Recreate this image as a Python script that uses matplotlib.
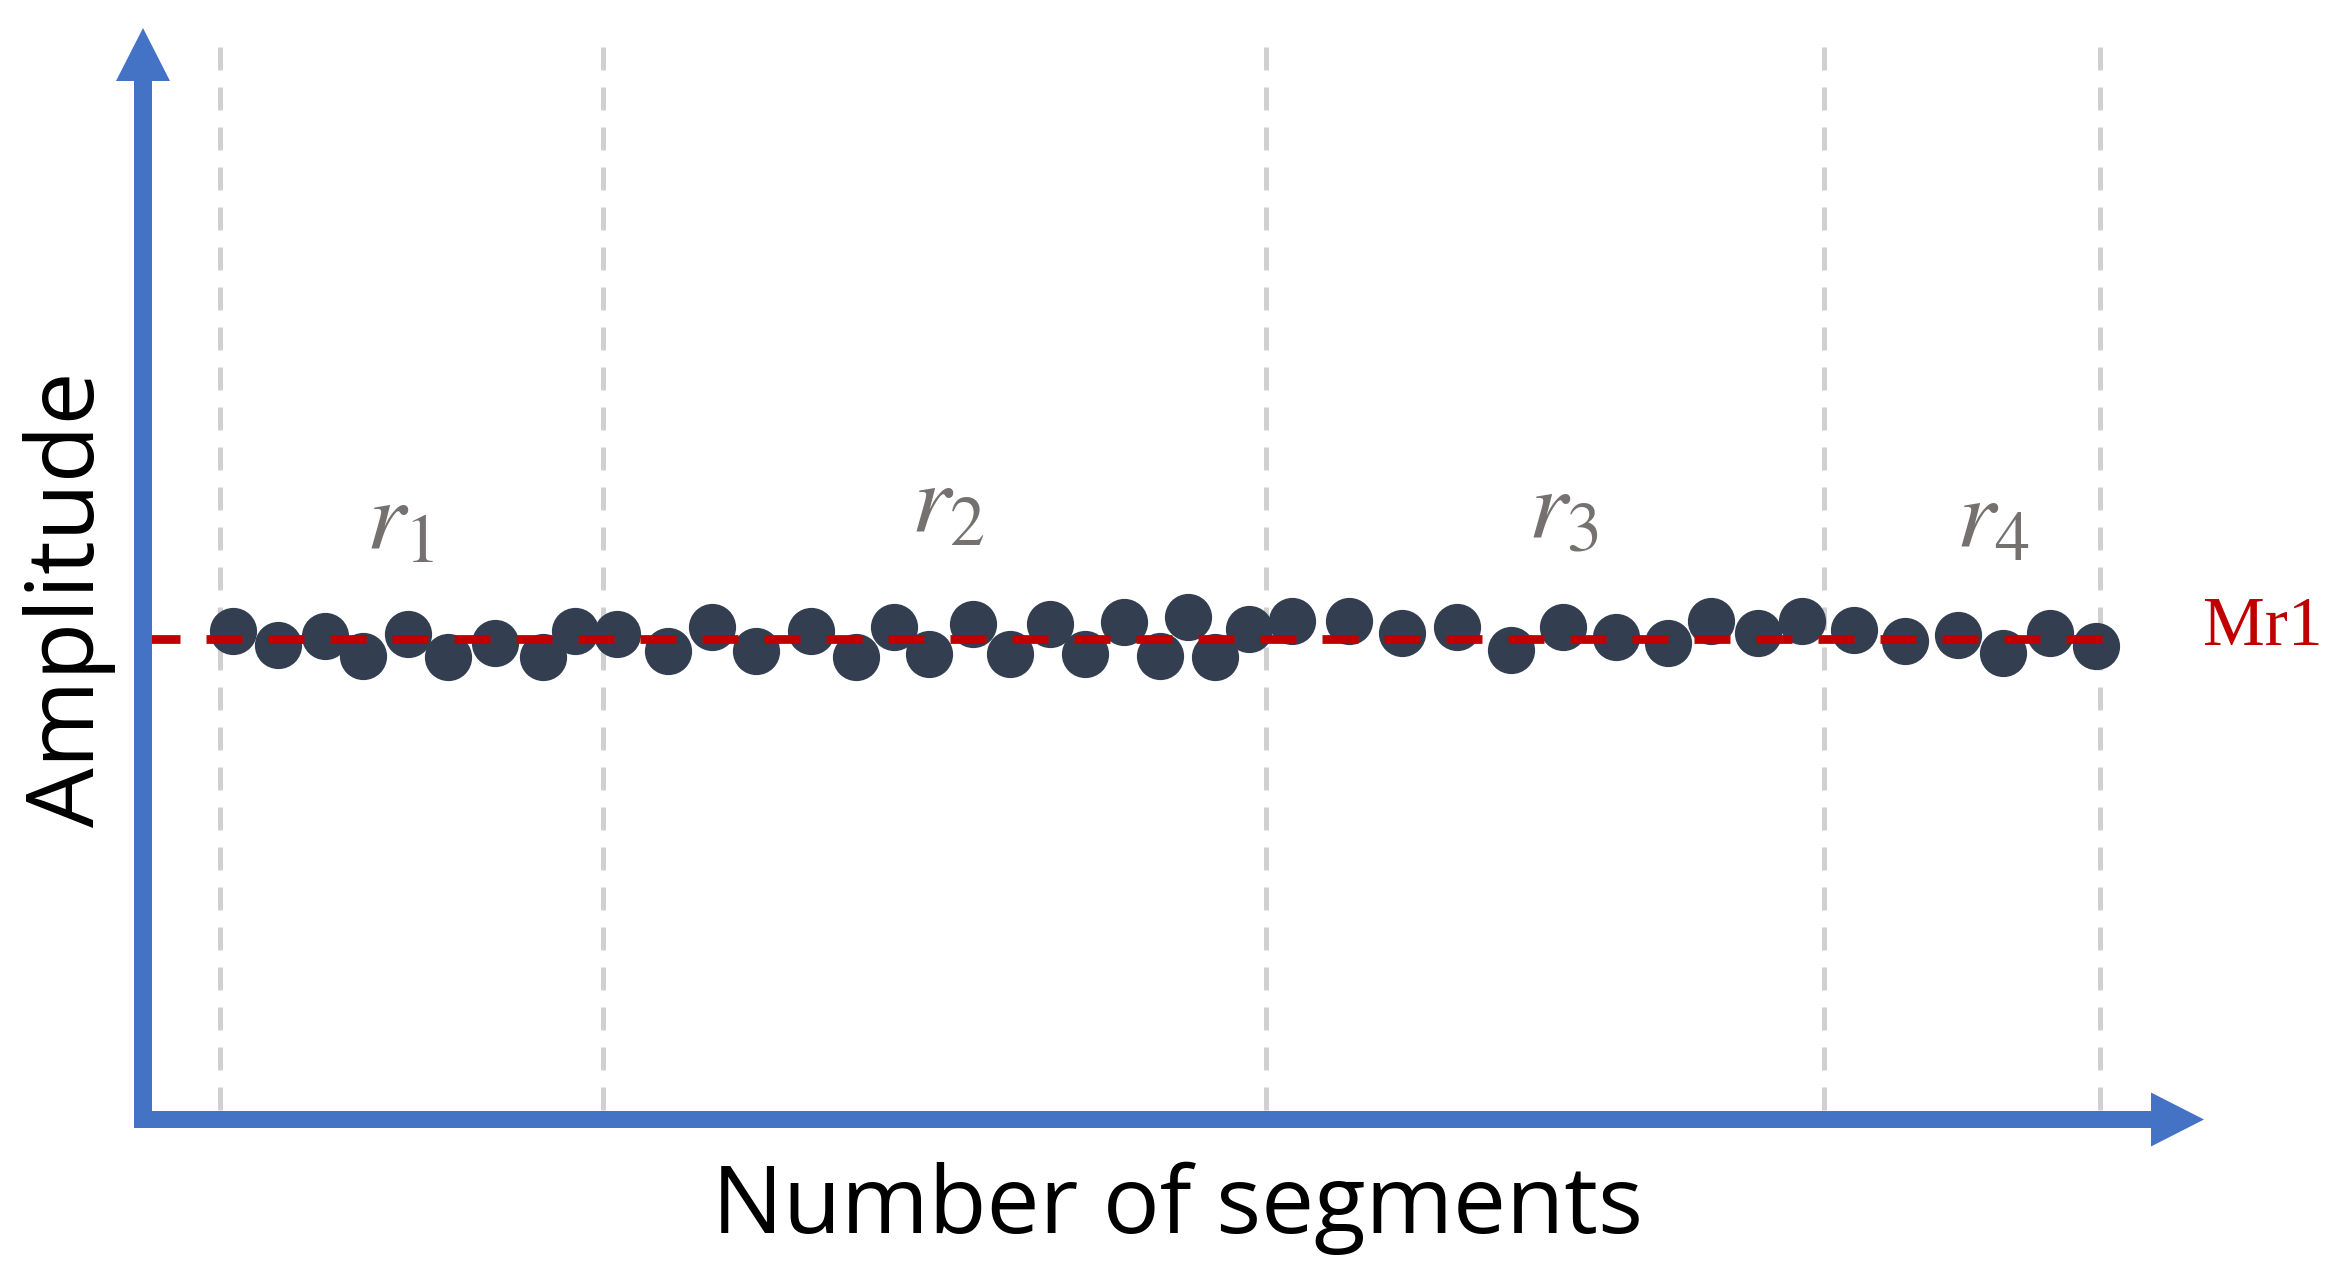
import matplotlib.pyplot as plt
from matplotlib.patches import FancyArrow
import numpy as np

# segment positions along the horizontal axis and their amplitudes
seg_x = [4.65, 6.9, 9.25, 11.15, 13.4, 15.4, 17.75, 20.15, 21.75, 23.85,
         26.4, 28.6, 30.8, 33.55, 35.8, 37.7, 39.45, 41.65, 43.5, 45.5,
         47.25, 49.2, 51.0, 52.4, 53.75, 55.45, 57.6, 60.45, 63.1, 65.85,
         68.55, 71.15, 73.8, 76.4, 78.55, 80.9, 83.1, 85.7, 88.25, 90.9,
         93.15, 95.5, 97.8]
amplitude = [44.75, 43.47, 44.30, 42.47, 44.48, 42.37, 43.65, 42.37, 44.75, 44.48,
             42.92, 45.12, 42.92, 44.75, 42.37, 45.12, 42.65, 45.40, 42.65, 45.40,
             42.65, 45.58, 42.47, 46.04, 42.37, 44.94, 45.67, 45.67, 44.57, 45.12,
             43.01, 45.12, 44.21, 43.65, 45.67, 44.57, 45.67, 44.85, 43.83, 44.39,
             42.74, 44.57, 43.38]
mean_r1 = 44.02
mean_span = [0.2, 98.75]

region_bounds = [4.0, 23.15, 56.3, 84.2, 98.0]
region_labels = [r'$r_1$', r'$r_2$', r'$r_3$', r'$r_4$']
label_x = [13.0, 40.4, 71.2, 92.65]
label_y = [54.7, 56.3, 55.8, 54.9]

W, H = 2335, 1273
fig = plt.figure(figsize=(W / 100, H / 100), dpi=100)
plt.rcParams['mathtext.fontset'] = 'stix'

# main axes: from the y-axis arrow (x=140px) to x arrow tip, y from x-axis to y arrow tip
ax = fig.add_axes([140 / W, (H - 1119.5) / H, (2204 - 140) / W, (1119.5 - 28) / H])
ax.set_xlim(0, 103.2)
ax.set_ylim(0, 100)
ax.axis('off')

for b in region_bounds:
    ax.plot([b, b], [0.87, 98.6], color='#d0d0d0', lw=3.6,
            dashes=(23 * 0.72 / 3.6, 17 * 0.72 / 3.6), zorder=1, clip_on=False)

ax.plot(seg_x, amplitude, 'o', color='#333f50', ms=34, mew=0, zorder=3, clip_on=False)

lw = 6.3
ax.plot(mean_span, [mean_r1, mean_r1], color='#c00000', lw=lw,
        dashes=(36 * 0.72 / lw, 26 * 0.72 / lw), zorder=4, clip_on=False)
ax.text(103.15, 45.0, 'Mr1', color='#c00000', fontsize=50, family='Liberation Serif',
        ha='left', va='center', clip_on=False)

for lab, x, y in zip(region_labels, label_x, label_y):
    ax.text(x, y, lab, color='#767171', fontsize=72, ha='center', va='center')

# axis arrows drawn in pixel space
over = fig.add_axes([0, 0, 1, 1])
over.set_xlim(0, W)
over.set_ylim(H, 0)
over.axis('off')
blue = '#4472c4'
over.add_patch(FancyArrow(143, 1128, 0, 28 - 1128, width=18, head_width=54, head_length=53,
                          length_includes_head=True, color=blue, lw=0))
over.add_patch(FancyArrow(134, 1119.5, 2204 - 134, 0, width=17, head_width=54, head_length=53,
                          length_includes_head=True, color=blue, lw=0))

fig.text(1178 / W, (H - 1233) / H, 'Number of segments', fontsize=68, family='Open Sans',
         ha='center', va='baseline')
fig.text(70 / W, (H - 599) / H, 'Amplitude', fontsize=68, family='Open Sans',
         rotation=90, ha='center', va='center')

fig.savefig('out.png', dpi=100, facecolor='white')
